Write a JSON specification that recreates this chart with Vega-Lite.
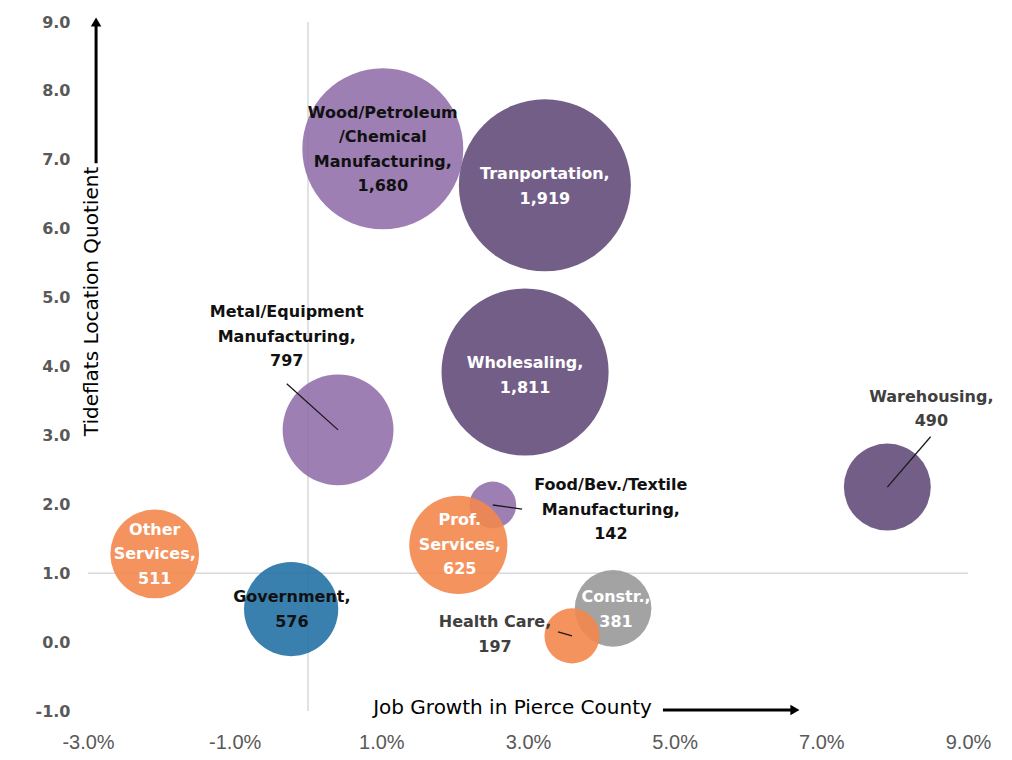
{
  "$schema": "https://vega.github.io/schema/vega-lite/v6.json",
  "width": 880,
  "height": 689,
  "autosize": "none",
  "padding": {"left": 88, "top": 22, "right": 44, "bottom": 49},
  "background": "white",
  "config": {"view": {"stroke": null}},
  "datasets": {
    "industries": [
      {"industry": "Food/Bev./Textile Manufacturing", "group": "Manufacturing", "growth": 2.52, "lq": 1.99, "jobs": 142, "label": "Food/Bev./Textile|Manufacturing,|142", "label_x": 4.13, "label_y": 2.28, "leader_x": 2.92, "leader_y": 1.93},
      {"industry": "Wood/Petroleum/Chemical Manufacturing", "group": "Manufacturing", "growth": 1.02, "lq": 7.16, "jobs": 1680, "label": "Wood/Petroleum|/Chemical|Manufacturing,|1,680", "label_x": 1.02, "label_y": 7.68},
      {"industry": "Metal/Equipment Manufacturing", "group": "Manufacturing", "growth": 0.41, "lq": 3.08, "jobs": 797, "label": "Metal/Equipment|Manufacturing,|797", "label_x": -0.29, "label_y": 4.79, "leader_x": -0.29, "leader_y": 3.75},
      {"industry": "Transportation", "group": "Logistics", "growth": 3.23, "lq": 6.63, "jobs": 1919, "label": "Tranportation,|1,919", "label_x": 3.23, "label_y": 6.79},
      {"industry": "Wholesaling", "group": "Logistics", "growth": 2.96, "lq": 3.92, "jobs": 1811, "label": "Wholesaling,|1,811", "label_x": 2.96, "label_y": 4.05},
      {"industry": "Warehousing", "group": "Logistics", "growth": 7.9, "lq": 2.25, "jobs": 490, "label": "Warehousing,|490", "label_x": 8.5, "label_y": 3.56, "leader_x": 8.49, "leader_y": 2.98},
      {"industry": "Other Services", "group": "Services", "growth": -2.09, "lq": 1.28, "jobs": 511, "label": "Other|Services,|511", "label_x": -2.09, "label_y": 1.63},
      {"industry": "Professional Services", "group": "Services", "growth": 2.05, "lq": 1.41, "jobs": 625, "label": "Prof.|Services,|625", "label_x": 2.07, "label_y": 1.77},
      {"industry": "Government", "group": "Government", "growth": -0.23, "lq": 0.48, "jobs": 576, "label": "Government,|576", "label_x": -0.22, "label_y": 0.65},
      {"industry": "Construction", "group": "Construction", "growth": 4.16, "lq": 0.49, "jobs": 381, "label": "Constr.,|381", "label_x": 4.2, "label_y": 0.65},
      {"industry": "Health Care", "group": "Services", "growth": 3.6, "lq": 0.09, "jobs": 197, "label": "Health Care,|197", "label_x": 2.55, "label_y": 0.29, "leader_x": 3.41, "leader_y": 0.15}
    ],
    "refs": [
      {"rx": 0, "ry": -1, "rx2": 0, "ry2": 9},
      {"rx": -3, "ry": 1, "rx2": 9, "ry2": 1}
    ],
    "arrows": [
      {"dir": "up", "ax": -2.89, "ay": 6.95, "ax2": -2.89, "ay2": 9.0},
      {"dir": "right", "ax": 4.84, "ay": -0.985, "ax2": 6.64, "ay2": -0.985}
    ]
  },
  "resolve": {"axis": {"x": "independent", "y": "independent"}},
  "layer": [
    {
      "data": {"name": "refs"},
      "mark": {"type": "rule", "color": "#D9D9D9", "strokeWidth": 1.5},
      "encoding": {
        "x": {"field": "rx", "type": "quantitative", "axis": null},
        "y": {"field": "ry", "type": "quantitative", "axis": null},
        "x2": {"field": "rx2"},
        "y2": {"field": "ry2"}
      }
    },
    {
      "data": {"name": "industries"},
      "mark": {"type": "circle", "opacity": 0.9},
      "encoding": {
        "x": {
          "field": "growth", "type": "quantitative",
          "scale": {"domain": [-3, 9], "nice": false, "zero": false},
          "axis": {
            "values": [-3, -1, 1, 3, 5, 7, 9],
            "labelExpr": "(datum.value < 0 ? '-' : '') + format(abs(datum.value), '.1f') + '%'",
            "grid": false, "domain": false, "ticks": false,
            "labelFlush": false,
            "labelFont": "Liberation Sans", "labelFontSize": 20, "labelColor": "#595959",
            "labelBaseline": "middle", "labelPadding": 31,
            "title": "Job Growth in Pierce County",
            "titleFont": "DejaVu Sans", "titleFontSize": 20, "titleFontWeight": "normal", "titleColor": "#000000",
            "titleX": 424, "titleY": -4, "titleAlign": "center", "titleBaseline": "middle"
          }
        },
        "y": {
          "field": "lq", "type": "quantitative",
          "scale": {"domain": [-1, 9], "nice": false, "zero": false},
          "axis": {
            "values": [-1, 0, 1, 2, 3, 4, 5, 6, 7, 8, 9],
            "labelExpr": "(datum.value < 0 ? '-' : '') + format(abs(datum.value), '.1f')",
            "grid": false, "domain": false, "ticks": false,
            "labelFlush": false,
            "labelFont": "DejaVu Sans", "labelFontSize": 16, "labelFontWeight": "bold", "labelColor": "#595959",
            "labelPadding": 18,
            "title": "Tideflats Location Quotient",
            "titleFont": "DejaVu Sans", "titleFontSize": 20, "titleFontWeight": "normal", "titleColor": "#000000",
            "titleAngle": -90, "titleX": 3, "titleY": 279, "titleAlign": "center", "titleBaseline": "middle"
          }
        },
        "size": {"field": "jobs", "type": "quantitative", "scale": {"type": "linear", "domain": [0, 1919], "range": [0, 29584]}, "legend": null},
        "color": {
          "field": "group", "type": "nominal",
          "scale": {"domain": ["Logistics", "Manufacturing", "Services", "Government", "Construction"], "range": ["#644C7B", "#9271AB", "#F3874C", "#2472A5", "#999999"]},
          "legend": null
        }
      }
    },
    {
      "data": {"name": "industries"},
      "transform": [{"filter": "isValid(datum.leader_x)"}],
      "mark": {"type": "rule", "color": "#1a1a1a", "strokeWidth": 1.3},
      "encoding": {
        "x": {"field": "leader_x", "type": "quantitative", "axis": null},
        "y": {"field": "leader_y", "type": "quantitative", "axis": null},
        "x2": {"field": "growth"},
        "y2": {"field": "lq"}
      }
    },
    {
      "data": {"name": "industries"},
      "mark": {"type": "text", "font": "DejaVu Sans", "fontSize": 16, "fontWeight": "bold", "align": "center", "baseline": "middle", "lineBreak": "|", "lineHeight": 24.5},
      "encoding": {
        "x": {"field": "label_x", "type": "quantitative", "axis": null},
        "y": {"field": "label_y", "type": "quantitative", "axis": null},
        "text": {"field": "label"},
        "fill": {
          "field": "industry", "type": "nominal",
          "scale": {
            "domain": ["Wood/Petroleum/Chemical Manufacturing", "Metal/Equipment Manufacturing", "Food/Bev./Textile Manufacturing", "Transportation", "Wholesaling", "Warehousing", "Professional Services", "Other Services", "Government", "Health Care", "Construction"],
            "range": ["#111111", "#111111", "#111111", "#FFFFFF", "#FFFFFF", "#404040", "#FFFFFF", "#FFFFFF", "#111111", "#404040", "#FFFFFF"]
          },
          "legend": null
        }
      }
    },
    {
      "data": {"name": "arrows"},
      "mark": {"type": "rule", "color": "#000000", "strokeWidth": 3},
      "encoding": {
        "x": {"field": "ax", "type": "quantitative", "axis": null},
        "y": {"field": "ay", "type": "quantitative", "axis": null},
        "x2": {"field": "ax2"},
        "y2": {"field": "ay2"}
      }
    },
    {
      "data": {"name": "arrows"},
      "mark": {"type": "point", "filled": true, "opacity": 1, "color": "#000000", "size": 110},
      "encoding": {
        "x": {"field": "ax2", "type": "quantitative", "axis": null},
        "y": {"field": "ay2", "type": "quantitative", "axis": null},
        "shape": {"field": "dir", "type": "nominal", "scale": {"domain": ["up", "right"], "range": ["triangle-up", "triangle-right"]}, "legend": null}
      }
    }
  ]
}
